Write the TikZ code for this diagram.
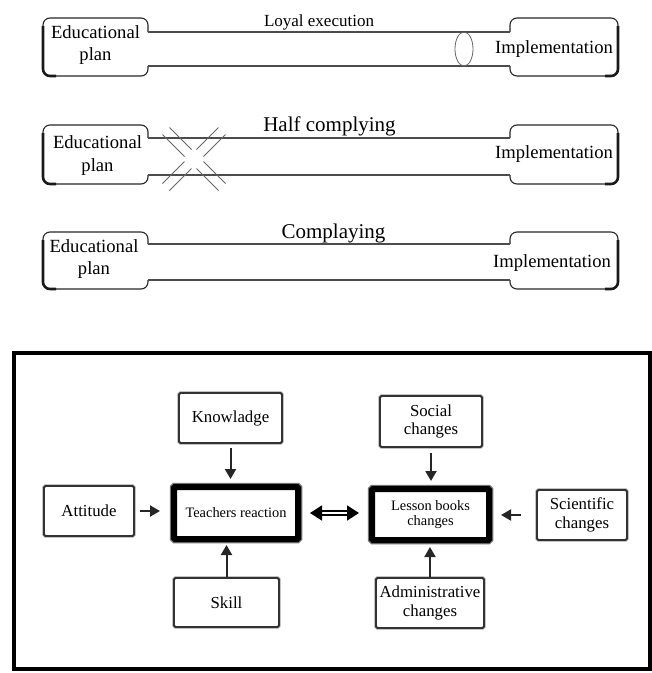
\documentclass[tikz,border=0pt]{standalone}
\usepackage{fontspec}
\setmainfont{Liberation Serif}
\usetikzlibrary{positioning,arrows.meta,calc}
\tikzset{
  capline/.style={draw=black!85, line width=1.1pt, rounded corners=7pt},
  capedge/.style={draw=black!90, line width=2.6pt, rounded corners=7pt},
  tubeline/.style={draw=black!70, line width=1.1pt},
  crossmark/.style={draw=black!60, line width=0.8pt},
  endtext/.style={font=\fontsize{18.6}{22.5}\selectfont, align=center, inner sep=0pt},
  tubelabel/.style={anchor=base, inner sep=0pt},
  causebox/.style={draw=black!80, line width=1.8pt, preaction={draw=black!35, line width=3.2pt}, fill=white, rounded corners=1.5pt, inner sep=2pt, align=center, font=\fontsize{16.8}{18.5}\selectfont},
  corebox/.style={draw=black, line width=6pt, preaction={draw=black!55, line width=8.5pt}, fill=white, rounded corners=1pt, inner sep=2pt, align=center, font=\fontsize{14.4}{15.7}\selectfont},
  pusharrow/.style={-{Triangle[length=10pt,width=11pt]}, line width=2pt, black!85},
  linkarrow/.style={{Triangle[length=12pt,width=15pt]}-{Triangle[length=12pt,width=15pt]}, double=white, double distance=2.2pt, line width=1.8pt},
  panelframe/.style={draw=black, line width=4pt}
}

\begin{document}
\begin{tikzpicture}[x=1pt, y=-1pt]
  \useasboundingbox (0,0) rectangle (652,673);

  % three tubes: top edge, upper line, lower line, bottom edge
  \foreach \t/\u/\d/\b in {18/32/66/76, 125/138/175/184, 232/244/280/289}{
    \draw[capline] (148,\u) -- (148,\t) -- (43,\t) -- (43,\b) -- (148,\b) -- (148,\d);
    \draw[capline] (510,\u) -- (510,\t) -- (618,\t) -- (618,\b) -- (510,\b) -- (510,\d);
    \draw[capedge] (43,\t+8) -- (43,\b) -- (56,\b);
    \draw[capedge] (618,\t+8) -- (618,\b) -- (605,\b);
    \draw[tubeline] (148,\u) -- (510,\u);
    \draw[tubeline] (148,\d) -- (510,\d);
  }

  \node[endtext] (plan1) at (95.5,45) {Educational\\plan};
  \node[endtext] (plan2) at (97.5,155.5) {Educational\\plan};
  \node[endtext] (plan3) at (94,259) {Educational\\plan};
  \node[endtext, anchor=base] (impl1) at (554,53.3) {Implementation};
  \node[endtext, anchor=base] (impl2) at (554,158) {Implementation};
  \node[endtext, anchor=base] (impl3) at (552,267) {Implementation};

  \node[tubelabel, font=\fontsize{17}{20}\selectfont] (loyal) at (319,26.7) {Loyal execution};
  \node[tubelabel, font=\fontsize{21}{24}\selectfont] (half) at (329.5,131.7) {Half complying};
  \node[tubelabel, font=\fontsize{21}{24}\selectfont] (full) at (333.5,238) {Complaying};

  % ring in the first tube
  \draw[draw=black!60, line width=0.8pt] (464,49) ellipse [x radius=9pt, y radius=17pt];

  % broken cross over the second tube
  \foreach \sx in {-1,1}
    \foreach \sy in {-1,1}
      \foreach \q in {-3.5,3.5}
        \draw[crossmark] (194+\sx*6+\sy*\q, 159+\sy*6-\sx*\q) -- (194+\sx*28+\sy*\q, 159+\sy*28-\sx*\q);

  % factors panel
  \draw[panelframe] (14,353) rectangle (650,669);

  \node[corebox, minimum width=124pt, minimum height=52pt] (teach) at (236,513) {Teachers reaction};
  \node[corebox, minimum width=117pt, minimum height=51pt] (lesson) at (430.5,514.5) {Lesson books\\changes};

  \node[causebox, minimum width=103pt, minimum height=50pt] (know) at (230.5,418) {Knowladge};
  \node[causebox, minimum width=90pt, minimum height=50pt] (att) at (89,511) {Attitude};
  \node[causebox, minimum width=105pt, minimum height=49pt] (skill) at (226.5,602.5) {Skill};
  \node[causebox, minimum width=102pt, minimum height=51pt] (social) at (431,421.5) {Social\\changes};
  \node[causebox, minimum width=90pt, minimum height=50pt] (sci) at (582,515) {Scientific\\changes};
  \node[causebox, minimum width=108pt, minimum height=50pt] (admin) at (430,603) {Administrative\\changes};

  \draw[pusharrow, shorten <=4pt, shorten >=5pt] (know) -- (know |- teach.north);
  \draw[pusharrow, shorten <=5pt, shorten >=11pt] (att) -- (att -| teach.west);
  \draw[pusharrow, shorten >=3pt] (skill) -- (skill |- teach.south);
  \draw[pusharrow, shorten <=5pt, shorten >=5pt] (social) -- (social |- lesson.north);
  \draw[pusharrow, shorten <=15pt, shorten >=9pt] (sci) -- (sci -| lesson.east);
  \draw[pusharrow, shorten >=4pt] (admin) -- (admin |- lesson.south);
  \draw[linkarrow, shorten <=9pt, shorten >=10pt] (teach.east) -- (teach.east -| lesson.west);
\end{tikzpicture}
\end{document}
